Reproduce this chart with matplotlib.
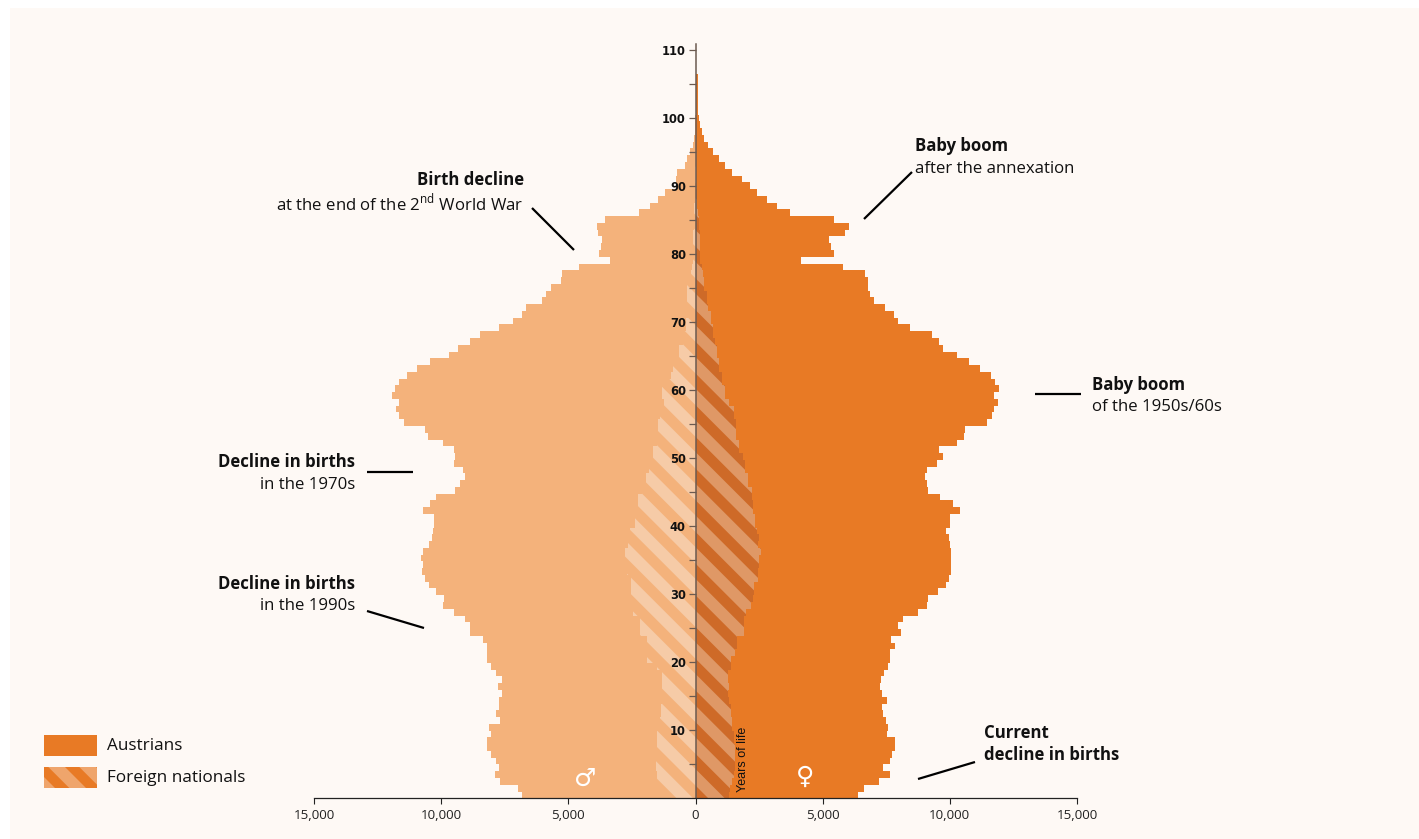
import numpy as np
import matplotlib
matplotlib.use('Agg')
import matplotlib.pyplot as plt
from matplotlib.patches import Polygon, Rectangle
from matplotlib.path import Path
from matplotlib.transforms import IdentityTransform

plt.rcParams['font.family'] = ['Open Sans', 'DejaVu Sans']
plt.rcParams['mathtext.fontset'] = 'custom'
plt.rcParams['mathtext.rm'] = 'Open Sans'

W, H = 1419, 839

# population per year of age, starting at age 0
male_total = [6810, 6970, 7680, 7880, 7730, 7830, 8040, 8200, 8200, 8040,
              8110, 7680, 7830, 7730, 7730, 7620, 7780, 7620, 7830, 8040,
              8200, 8200, 8200, 8370, 8870, 8870, 9080, 9510, 9940, 9890,
              10200, 10480, 10640, 10760, 10700, 10810, 10700, 10480, 10380, 10320,
              10270, 10270, 10700, 10430, 10200, 9460, 9250, 9080, 9140, 9510,
              9460, 9510, 9940, 10530, 10640, 11460, 11670, 11780, 11670, 11940,
              11830, 11670, 11350, 10960, 10430, 9680, 9350, 8870, 8490, 7730,
              7190, 6810, 6650, 6050, 5890, 5680, 5290, 5240, 4590, 3360,
              3780, 3730, 3680, 3830, 3890, 3570, 2210, 1790, 1460, 1190,
              770, 770, 720, 430, 320, 220, 110, 40, 20, 10,
              10, 0, 0, 0, 0, 0, 0]
female_total = [6390, 6610, 7200, 7640, 7360, 7640, 7740, 7850, 7850, 7530,
                7580, 7480, 7370, 7320, 7530, 7320, 7270, 7300, 7420, 7580,
                7640, 7640, 7850, 7690, 8070, 7960, 8170, 8760, 9090, 9140,
                9520, 9840, 9960, 10060, 10060, 10060, 10060, 10010, 9960, 9850,
                10010, 10010, 10390, 10110, 9630, 9140, 9090, 9040, 9090, 9510,
                9730, 9580, 10270, 10550, 10600, 11460, 11670, 11730, 11900, 11730,
                11950, 11780, 11620, 11190, 10760, 10270, 9730, 9580, 9300, 8440,
                7950, 7790, 7470, 7030, 6880, 6770, 6770, 6670, 5800, 4130,
                5430, 5320, 5260, 5860, 6020, 5430, 3700, 3210, 2830, 2410,
                2140, 1810, 1430, 1170, 940, 680, 510, 340, 250, 180,
                130, 110, 100, 100, 90, 90, 80]
male_foreign = [1350, 1430, 1500, 1520, 1550, 1550, 1510, 1510, 1510, 1510,
                1390, 1390, 1360, 1360, 1320, 1320, 1320, 1320, 1320, 1500,
                1890, 1890, 1890, 1890, 2200, 2200, 2200, 2470, 2530, 2530,
                2530, 2530, 2530, 2700, 2770, 2770, 2770, 2640, 2640, 2570,
                2360, 2360, 2260, 2260, 2260, 2110, 1940, 1940, 1820, 1780,
                1670, 1670, 1510, 1510, 1460, 1460, 1390, 1230, 1230, 1300,
                1300, 1130, 960, 870, 870, 630, 630, 500, 470, 370,
                370, 280, 280, 320, 320, 320, 210, 180, 140, 100,
                80, 80, 80, 80, 60, 60, 40, 40, 30, 30,
                20, 20, 10, 10, 10, 0, 0, 0, 0, 0,
                0, 0, 0, 0, 0, 0, 0]
female_foreign = [1310, 1360, 1430, 1520, 1550, 1570, 1570, 1570, 1500, 1500,
                  1430, 1430, 1380, 1380, 1310, 1260, 1310, 1260, 1260, 1380,
                  1380, 1560, 1640, 1640, 1910, 1910, 1910, 1970, 2200, 2260,
                  2290, 2290, 2470, 2470, 2500, 2500, 2570, 2440, 2500, 2410,
                  2350, 2350, 2280, 2280, 2220, 2220, 2050, 2050, 1950, 1950,
                  1860, 1720, 1720, 1600, 1600, 1600, 1500, 1500, 1300, 1170,
                  1170, 1060, 1060, 910, 910, 840, 840, 770, 680, 680,
                  600, 600, 510, 450, 450, 340, 340, 300, 250, 190,
                  170, 170, 170, 170, 130, 130, 100, 60, 50, 50,
                  30, 30, 20, 20, 10, 0, 0, 0, 0, 0,
                  0, 0, 0, 0, 0, 0, 0]
ages = np.arange(len(male_total))

x_ticks = [-15000, -10000, -5000, 0, 5000, 10000, 15000]
x_labels = ['15,000', '10,000', '5,000', '0', '5,000', '10,000', '15,000']
age_major = list(range(10, 111, 10))
age_minor = list(range(5, 106, 10))

BG = '#fef9f5'
MALE = '#f4b27b'
MALE_PALE = '#f6cba7'
FEMALE = '#e87a25'
FEMALE_DARK = '#ce6a28'
FEMALE_LIGHT = '#df9866'
LEGEND_LIGHT = '#efa56c'
BAR_STEP = 0.9955  # bars are a bit tighter than the age ticks


def px(x, y):
    return x / W, 1 - y / H


def step_outline(values):
    # closed outline of the stack of bars, from the axis out to values
    v = np.asarray(values, dtype=float)
    ys = np.repeat(np.arange(len(v) + 1) * BAR_STEP, 2)[1:-1]
    xs = np.repeat(v, 2)
    xy = np.column_stack([np.r_[0, xs, 0], np.r_[ys[0], ys, ys[-1]]])
    return Path(xy)


def stripes(ax, start_x, start_y, period, thick, n, span, color, clip, transform):
    # 45 degree bands going down to the right, in pixels
    for k in range(-n, n):
        y0 = start_y + k * period
        xa, xb = start_x - span, start_x + span
        pts = [(xa, y0 - span), (xb, y0 + span), (xb, y0 + span + thick), (xa, y0 - span + thick)]
        pts = [(a, H - b) for a, b in pts]
        band = Polygon(pts, closed=True, facecolor=color, edgecolor='none', transform=IdentityTransform(), zorder=2.2)
        ax.add_artist(band)
        band.set_clip_path(clip, transform)


fig = plt.figure(figsize=(W / 100, H / 100), dpi=100, facecolor='white')
fig.add_artist(Rectangle(px(10, H), (W - 10) / W, (H - 8) / H, facecolor=BG, edgecolor='none', transform=fig.transFigure, zorder=-5))

ax = fig.add_axes([314 / W, (H - 798.3) / H, 763 / W, (798.3 - 44) / H])
ax.patch.set_alpha(0)
ax.set_xlim(-15000, 15000)
ax.set_ylim(0, (798.3 - 44) / 6.8)

y_pos = ages * BAR_STEP
ax.barh(y_pos, -np.array(male_total), height=BAR_STEP, align='edge', color=MALE, linewidth=0, zorder=1)
ax.barh(y_pos, female_total, height=BAR_STEP, align='edge', color=FEMALE, linewidth=0, zorder=1)
ax.barh(y_pos, female_foreign, height=BAR_STEP, align='edge', color=FEMALE_DARK, linewidth=0, zorder=2)

stripes(ax, 695.5, 452, 31.7, 16.5, 30, 500, MALE_PALE, step_outline(-np.array(male_foreign)), ax.transData)
stripes(ax, 695.5, 452, 31.7, 16.5, 30, 500, FEMALE_LIGHT, step_outline(female_foreign), ax.transData)

# axes: age axis runs up the middle
for s in ['top', 'right']:
    ax.spines[s].set_visible(False)
ax.spines['left'].set_position(('data', 0))
ax.spines['left'].set_color('#6b5a50')
ax.spines['left'].set_linewidth(1.1)
ax.spines['bottom'].set_color('#222222')
ax.spines['bottom'].set_linewidth(0.9)
ax.set_axisbelow(False)

ax.set_xticks(x_ticks)
ax.set_xticklabels(x_labels, fontsize=9.6, color='#222222')
ax.tick_params(axis='x', length=4.5, width=0.8, color='#222222', pad=3)

ax.set_yticks(age_major)
ax.set_yticks(age_minor, minor=True)
ax.set_yticklabels([str(a) for a in age_major])
for lab in ax.get_yticklabels():
    lab.set_fontfamily('DejaVu Sans')
    lab.set_fontweight('bold')
    lab.set_fontsize(8.3)
    lab.set_color('#111111')
ax.tick_params(axis='y', which='major', length=5, width=0.9, color='#6b5a50', pad=2)
ax.tick_params(axis='y', which='minor', length=5, width=0.9, color='#6b5a50')

# gender marks and axis title
fig.text(*px(585, 779), '\u2642', color='white', fontsize=18, family='DejaVu Sans', ha='center', va='center', zorder=7)
fig.text(*px(805, 777), '\u2640', color='white', fontsize=18, family='DejaVu Sans', ha='center', va='center', zorder=7)
fig.text(*px(743, 759.5), 'Years of life', color='#111111', fontsize=9, family='Liberation Sans', rotation=90, ha='center', va='center', zorder=7)

# annotations
TXT = '#111111'
notes = [
    (524, 180, 'Birth decline', 'right', True),
    (524, 203, r'at the end of the 2$^{\mathrm{nd}}$ World War', 'right', False),
    (915, 146, 'Baby boom', 'left', True),
    (915, 169, 'after the annexation', 'left', False),
    (1092, 385, 'Baby boom', 'left', True),
    (1092, 407, 'of the 1950s/60s', 'left', False),
    (355, 462, 'Decline in births', 'right', True),
    (355, 485, 'in the 1970s', 'right', False),
    (355, 584, 'Decline in births', 'right', True),
    (355, 606, 'in the 1990s', 'right', False),
    (984, 733, 'Current', 'left', True),
    (984, 755, 'decline in births', 'left', True),
]
for x, y, s, ha, bold in notes:
    fig.text(*px(x, y), s, fontsize=12.1, color=TXT, ha=ha, va='center', fontweight='bold' if bold else 'normal', zorder=7)

leaders = [
    ((532, 208), (574, 250)),
    ((864, 219), (912, 172)),
    ((1035, 394), (1081, 394)),
    ((367, 472), (413, 472)),
    ((367, 611), (424, 628)),
    ((918, 779), (975, 762)),
]
for a, b in leaders:
    xa, ya = px(*a)
    xb, yb = px(*b)
    fig.add_artist(plt.Line2D([xa, xb], [ya, yb], color='black', lw=1.6, solid_capstyle='butt', transform=fig.transFigure, zorder=7))

# legend
fig.add_artist(Rectangle(px(44, 756), 53 / W, 21 / H, facecolor=FEMALE, edgecolor='none', transform=fig.transFigure, zorder=3))
fig.add_artist(Rectangle(px(44, 788), 53 / W, 21 / H, facecolor=FEMALE, edgecolor='none', transform=fig.transFigure, zorder=3))
clip_box = Rectangle(px(44, 788), 53 / W, 21 / H, transform=fig.transFigure)
for k in range(-3, 4):
    y0 = 767 + k * 31
    pts = [(48.3 - 60, y0 - 60), (48.3 + 60, y0 + 60), (48.3 + 60 + 16.7, y0 + 60), (48.3 - 60 + 16.7, y0 - 60)]
    pts = [(a, H - b) for a, b in pts]
    band = Polygon(pts, closed=True, facecolor=LEGEND_LIGHT, edgecolor='none', transform=IdentityTransform(), zorder=4)
    fig.add_artist(band)
    band.set_clip_path(clip_box.get_path(), clip_box.get_transform())

fig.text(*px(107, 745.5), 'Austrians', fontsize=12.3, color=TXT, va='center', zorder=7)
fig.text(*px(107, 777.5), 'Foreign nationals', fontsize=12.3, color=TXT, va='center', zorder=7)

fig.savefig('out.png', dpi=100, facecolor='white')
